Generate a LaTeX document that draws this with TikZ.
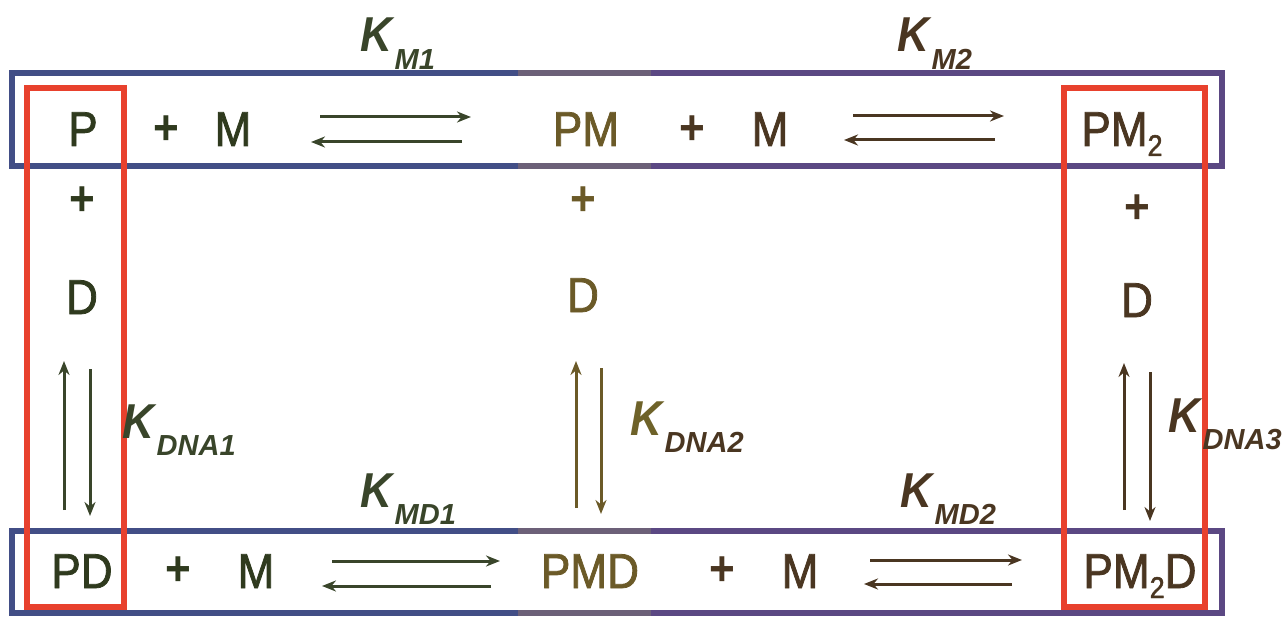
\documentclass[tikz,border=0pt]{standalone}
\usepackage{fontspec}
\setmainfont{Liberation Sans}[FakeStretch=0.9]
\newfontfamily\spfont{Liberation Sans}[FakeStretch=0.9,FakeBold=1.6]
\newfontfamily\subfont{Liberation Sans}
\usetikzlibrary{arrows.meta}
\definecolor{cgreen}{HTML}{2F3A1E}
\definecolor{cgreenk}{HTML}{39452A}
\definecolor{colive}{HTML}{6B5A28}
\definecolor{colivek}{HTML}{6E6229}
\definecolor{cbrown}{HTML}{4A3621}
\definecolor{cblue}{HTML}{424E86}
\definecolor{cmid}{HTML}{6C6078}
\definecolor{cpurple}{HTML}{5B4883}
\definecolor{cred}{HTML}{E8412D}
\newcommand{\sub}[1]{\raisebox{-10pt}{\fontsize{30}{30}\selectfont #1}}
\newcommand{\ksub}[1]{\raisebox{-0.36em}{\subfont\fontsize{29}{29}\selectfont\textbf{\textit{#1}}}}
\newcommand{\kconst}[1]{\textbf{\textit{K}}\ksub{#1}}
\begin{document}
\begin{tikzpicture}[x=1pt,y=-1pt,
  species/.style={inner sep=0pt,anchor=base,font=\spfont\fontsize{49}{55}\selectfont},
  plussign/.style={inner sep=0pt,anchor=center,font=\fontsize{49}{55}\selectfont\bfseries},
  kconst/.style={inner sep=0pt,anchor=base west,font=\fontsize{49}{55}\selectfont},
  rxn/.style={line width=3pt,-{Stealth[length=14pt,width=11pt]}},
  bluebox/.style={line width=5.5pt},
  redbox/.style={draw=cred,line width=6pt}]
\useasboundingbox (0,0) rectangle (1284,620);

% blue boxes around the rows (three colour bands)
\draw[bluebox,cblue] (518,73) -- (12,73) -- (12,166) -- (518,166);
\draw[bluebox,cmid] (518,73) -- (651,73) (518,166) -- (651,166);
\draw[bluebox,cpurple] (651,73) -- (1222,73) -- (1222,166) -- (651,166);
\draw[bluebox,cblue] (518,531) -- (12,531) -- (12,613) -- (518,613);
\draw[bluebox,cmid] (518,531) -- (651,531) (518,613) -- (651,613);
\draw[bluebox,cpurple] (651,531) -- (1222,531) -- (1222,613) -- (651,613);

% red boxes around the columns
\draw[redbox] (27,88) rectangle (124,607);
\draw[redbox] (1064,88) rectangle (1205,607);

% top row
\node[species,text=cgreen] (P) at (83,146) {P};
\node[plussign,text=cgreen] (pl1) at (166,130) {+};
\node[species,text=cgreen] (M1) at (233,146) {M};
\node[species,text=colive] (PM) at (586,146) {PM};
\node[plussign,text=cbrown] (pl2) at (692,130) {+};
\node[species,text=cbrown] (M2) at (770,146) {M};
\node[species,text=cbrown] (PM2) at (1122,146) {PM\sub{2}};

% middle column entries
\node[plussign,text=cgreen] (pl3) at (82,201) {+};
\node[species,text=cgreen] (D1) at (82,314) {D};
\node[plussign,text=colive] (pl4) at (583,201) {+};
\node[species,text=colive] (D2) at (583,312) {D};
\node[plussign,text=cbrown] (pl5) at (1137,209) {+};
\node[species,text=cbrown] (D3) at (1137,317) {D};

% bottom row
\node[species,text=cgreen] (PD) at (82,588) {PD};
\node[plussign,text=cgreen] (pl6) at (178,571) {+};
\node[species,text=cgreen] (M3) at (256,588) {M};
\node[species,text=colive] (PMD) at (590,588) {PMD};
\node[plussign,text=cbrown] (pl7) at (722,571) {+};
\node[species,text=cbrown] (M4) at (800,588) {M};
\node[species,text=cbrown] (PM2D) at (1140,588) {PM\sub{2}D};

% equilibrium constants
\node[kconst,text=cgreenk] (KM1) at (360,52) {\kconst{M1}};
\node[kconst,text=cbrown] (KM2) at (897,52) {\kconst{M2}};
\node[kconst,text=cgreenk] (KMD1) at (360,507) {\kconst{MD1}};
\node[kconst,text=cbrown] (KMD2) at (900,507) {\kconst{MD2}};
\node[kconst,text=cgreenk] (KD1) at (122,438) {\kconst{DNA1}};
\node[kconst,text=colivek] (KD2) at (630,435) {\textbf{\textit{K}}\textcolor{cbrown}{\ksub{DNA2}}};
\node[kconst,text=cbrown] (KD3) at (1168,432) {\kconst{DNA3}};

% arrow end points
\coordinate (a1s) at (320,117); \coordinate (a1e) at (471,117);
\coordinate (b1s) at (462,142); \coordinate (b1e) at (311,142);
\coordinate (a2s) at (853,116); \coordinate (a2e) at (1004,116);
\coordinate (b2s) at (995,140); \coordinate (b2e) at (844,140);
\coordinate (a3s) at (332,561); \coordinate (a3e) at (500,561);
\coordinate (b3s) at (491,586); \coordinate (b3e) at (322,586);
\coordinate (a4s) at (870,560); \coordinate (a4e) at (1022,560);
\coordinate (b4s) at (1012,584); \coordinate (b4e) at (864,584);
\coordinate (u1s) at (64,510); \coordinate (u1e) at (64,361);
\coordinate (d1s) at (90,369); \coordinate (d1e) at (90,516);
\coordinate (u2s) at (576,508); \coordinate (u2e) at (576,361);
\coordinate (d2s) at (601,368); \coordinate (d2e) at (601,514);
\coordinate (u3s) at (1124,510); \coordinate (u3e) at (1124,363);
\coordinate (d3s) at (1150,372); \coordinate (d3e) at (1150,521);

% reaction arrows
\draw[rxn,cgreenk] (a1s) -- (a1e);
\draw[rxn,cgreenk] (b1s) -- (b1e);
\draw[rxn,cbrown] (a2s) -- (a2e);
\draw[rxn,cbrown] (b2s) -- (b2e);
\draw[rxn,cgreenk] (a3s) -- (a3e);
\draw[rxn,cgreenk] (b3s) -- (b3e);
\draw[rxn,cbrown] (a4s) -- (a4e);
\draw[rxn,cbrown] (b4s) -- (b4e);
\draw[rxn,cgreenk] (u1s) -- (u1e);
\draw[rxn,cgreenk] (d1s) -- (d1e);
\draw[rxn,colive] (u2s) -- (u2e);
\draw[rxn,colive] (d2s) -- (d2e);
\draw[rxn,cbrown] (u3s) -- (u3e);
\draw[rxn,cbrown] (d3s) -- (d3e);
\end{tikzpicture}
\end{document}
